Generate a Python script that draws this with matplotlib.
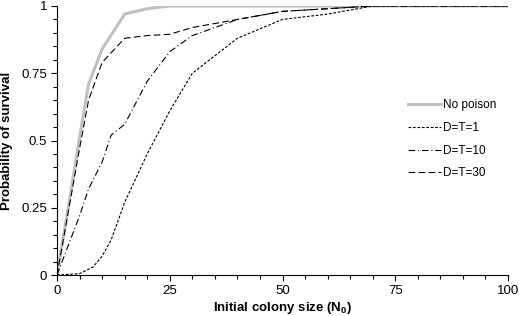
import matplotlib
matplotlib.use('Agg')
import matplotlib.pyplot as plt
from matplotlib.ticker import MultipleLocator

plt.rcParams['font.family'] = ['Liberation Sans', 'DejaVu Sans']

# Initial colony size and survival probability per scenario
x_none = [0, 2, 5, 7, 10, 15, 20, 25, 30, 40, 50, 60, 70, 80, 90, 100]
p_none = [0, 0.2, 0.51, 0.71, 0.84, 0.97, 0.99, 1.0, 1.0, 1.0, 1.0, 1.0, 1.0, 1.0, 1.0, 1.0]

x_d1 = [0, 5, 8, 10, 12, 15, 20, 25, 30, 40, 50, 60, 70, 80, 90, 100]
p_d1 = [0, 0.005, 0.03, 0.07, 0.13, 0.27, 0.45, 0.61, 0.75, 0.88, 0.95, 0.97, 1.0, 1.0, 1.0, 1.0]

x_d10 = [0, 5, 7, 10, 12, 15, 20, 25, 30, 40, 50, 60, 70, 80, 90, 100]
p_d10 = [0, 0.22, 0.32, 0.42, 0.52, 0.56, 0.72, 0.83, 0.89, 0.95, 0.98, 0.99, 1.0, 1.0, 1.0, 1.0]

x_d30 = [0, 5, 7, 10, 15, 20, 25, 30, 40, 50, 60, 70, 80, 90, 100]
p_d30 = [0, 0.47, 0.65, 0.79, 0.88, 0.89, 0.895, 0.92, 0.95, 0.98, 0.99, 1.0, 1.0, 1.0, 1.0]

fig = plt.figure(figsize=(5.19, 3.16), dpi=100)
ax = fig.add_axes([57 / 519, 41 / 316, 451 / 519, 269 / 316])

ax.plot(x_none, p_none, color='#c0c0c0', lw=2.2, label='No poison')
ax.plot(x_d1, p_d1, color='black', lw=0.8, dashes=(2.5, 1.5), label='D=T=1')
ax.plot(x_d10, p_d10, color='black', lw=0.8, dashes=(6, 2.5, 1, 2.5), label='D=T=10')
ax.plot(x_d30, p_d30, color='black', lw=0.8, dashes=(6, 3), label='D=T=30')

ax.set_xlim(0, 100)
ax.set_ylim(0, 1)
ax.xaxis.set_major_locator(MultipleLocator(25))
ax.xaxis.set_minor_locator(MultipleLocator(5))
ax.yaxis.set_major_locator(MultipleLocator(0.25))
ax.yaxis.set_minor_locator(MultipleLocator(0.05))
ax.set_yticks([0, 0.25, 0.5, 0.75, 1])
ax.set_yticklabels(['0', '0.25', '0.5', '0.75', '1'])
ax.tick_params(which='major', length=4, width=0.8, labelsize=9.5, direction='out', pad=3)
ax.tick_params(which='minor', length=3, width=0.8, direction='out')

for s in ['top', 'right']:
    ax.spines[s].set_visible(False)

ax.set_xlabel('Initial colony size (N$_\\mathregular{0}$)', fontsize=9.5, fontweight='bold', labelpad=2)
ax.set_ylabel('Probability of survival', fontsize=9.5, fontweight='bold', labelpad=6)

ax.legend(loc='upper left', bbox_to_anchor=(0.755, 0.692), frameon=False, fontsize=8.5,
          handlelength=2.8, handletextpad=0.15, labelspacing=0.9)

fig.savefig('out.png', dpi=100)
